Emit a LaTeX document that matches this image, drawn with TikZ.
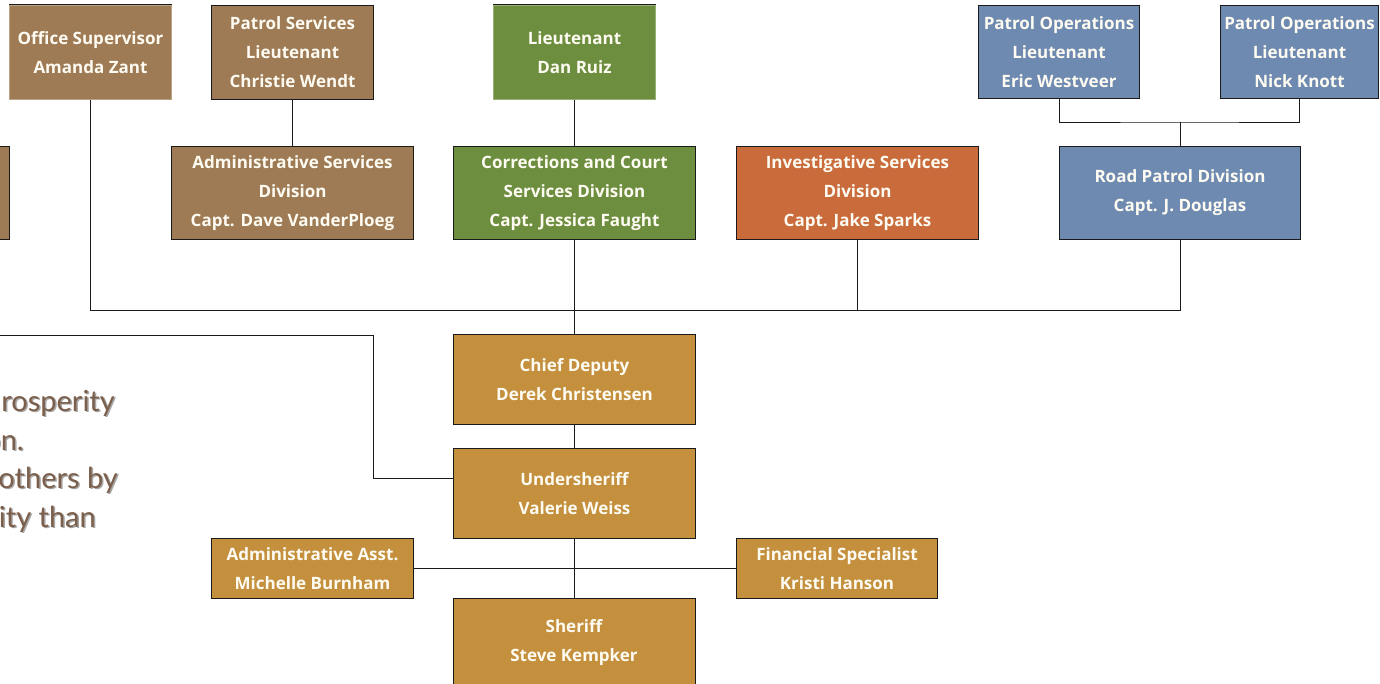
\documentclass[tikz,border=0pt]{standalone}
\usepackage{fontspec}
\setmainfont{Open Sans}
\newfontfamily\boxfont{Open Sans}
\newfontfamily\quotefont{Lato}
\definecolor{cbrown}{HTML}{9E7B55}
\definecolor{cgreen}{HTML}{6E8E3F}
\definecolor{corange}{HTML}{C96B3A}
\definecolor{cblue}{HTML}{6E8AB0}
\definecolor{cgold}{HTML}{C4903E}
\definecolor{cquote}{HTML}{7B5F4B}
\definecolor{cline}{HTML}{1A1A1A}
\definecolor{ctext}{HTML}{FDFBF2}
\tikzset{
  orgbox/.style={draw=cline, line width=1pt, fill=#1, text=ctext, align=center,
    inner sep=0pt, anchor=north west,
    font=\boxfont\bfseries\fontsize{17}{29}\selectfont},
  softbox/.style={orgbox=#1, draw=#1!70!white},
  conn/.style={draw=cline, line width=0.9pt},
  quote/.style={anchor=base east, inner sep=0pt, text=cquote,
    font=\quotefont\fontsize{29}{38}\selectfont},
  quoteshadow/.style={quote, text=black!35}
}
\begin{document}
\begin{tikzpicture}[x=1pt,y=-1pt]
\useasboundingbox (0,0) rectangle (1380,684);
\clip (0,0) rectangle (1380,684);
\fill[white] (0,0) rectangle (1380,684);
% top row
\node[softbox=cbrown, minimum width=162, minimum height=94] (os) at (9,5) {Office Supervisor\\Amanda Zant};
\draw[cline, line width=1pt] (os.north west) -- (os.north east);
\node[orgbox=cbrown, minimum width=162, minimum height=94] (ps) at (211,5) {Patrol Services\\Lieutenant\\Christie Wendt};
\node[softbox=cgreen, minimum width=162, minimum height=94] (dr) at (493,5) {Lieutenant\\Dan Ruiz};
\draw[cline, line width=1pt] (dr.north west) -- (dr.north east);
\node[orgbox=cblue, minimum width=161, minimum height=93] (pe) at (978,5) {Patrol Operations\\Lieutenant\\Eric Westveer};
\node[orgbox=cblue, minimum width=158, minimum height=93] (pn) at (1220,5) {Patrol Operations\\Lieutenant\\Nick Knott};
% second row
\node[orgbox=cbrown, minimum width=250, minimum height=93] (lb) at (-241,146) {};
\node[orgbox=cbrown, minimum width=242, minimum height=93] (as) at (171,146) {Administrative Services\\Division\\Capt. Dave VanderPloeg};
\node[orgbox=cgreen, minimum width=242, minimum height=93] (cc) at (453,146) {Corrections and Court\\Services Division\\Capt. Jessica Faught};
\node[orgbox=corange, minimum width=242, minimum height=93] (is) at (736,146) {Investigative Services\\Division\\Capt. Jake Sparks};
\node[orgbox=cblue, minimum width=241, minimum height=93] (rp) at (1059,146) {Road Patrol Division\\Capt. J. Douglas};
% command chain
\node[orgbox=cgold, minimum width=242, minimum height=90] (cd) at (453,334) {Chief Deputy\\Derek Christensen};
\node[orgbox=cgold, minimum width=242, minimum height=90] (us) at (453,448) {Undersheriff\\Valerie Weiss};
\node[orgbox=cgold, minimum width=202, minimum height=60] (aa) at (211,538) {Administrative Asst.\\Michelle Burnham};
\node[orgbox=cgold, minimum width=201, minimum height=60] (fs) at (736,538) {Financial Specialist\\Kristi Hanson};
\node[orgbox=cgold, minimum width=242, minimum height=120] (sh) at (453,598) {};
\node[text=ctext, align=center, inner sep=0pt, font=\boxfont\bfseries\fontsize{17}{29}\selectfont] (shtext) at (574,643) {Sheriff\\Steve Kempker};
% connectors
\coordinate (bus) at (574,310);
\coordinate (pj) at (rp.north |- 0,122);
\coordinate (lf) at (0,335);
\coordinate (lm) at (373,478);
\draw[conn] (os.south) |- (bus);
\draw[conn] (rp.south) |- (bus);
\draw[conn] (is.south) -- (is.south |- bus);
\draw[conn] (cc.south) -- (cd.north);
\draw[conn] (ps.south) -- (as.north);
\draw[conn] (dr.south) -- (cc.north);
\draw[conn] (pe.south) |- (pj) -| (pn.south);
\draw[conn] (pj) -- (rp.north);
\draw[conn] (lf) -| (lm) -- (lm -| us.west);
\draw[conn] (cd.south) -- (us.north);
\draw[conn] (us.south) -- (sh.north);
\draw[conn] (aa.east) -- (fs.west);
% quote text
\foreach \t/\xx/\yy [count=\i] in {rosperity/115/411, on./24/450, others by/118/488, ity than/96/527}{
  \node[quoteshadow] (qs\i) at (\xx+1.5,\yy+1.5) {\t};
  \node[quote] (q\i) at (\xx,\yy) {\t};
}
\end{tikzpicture}
\end{document}
